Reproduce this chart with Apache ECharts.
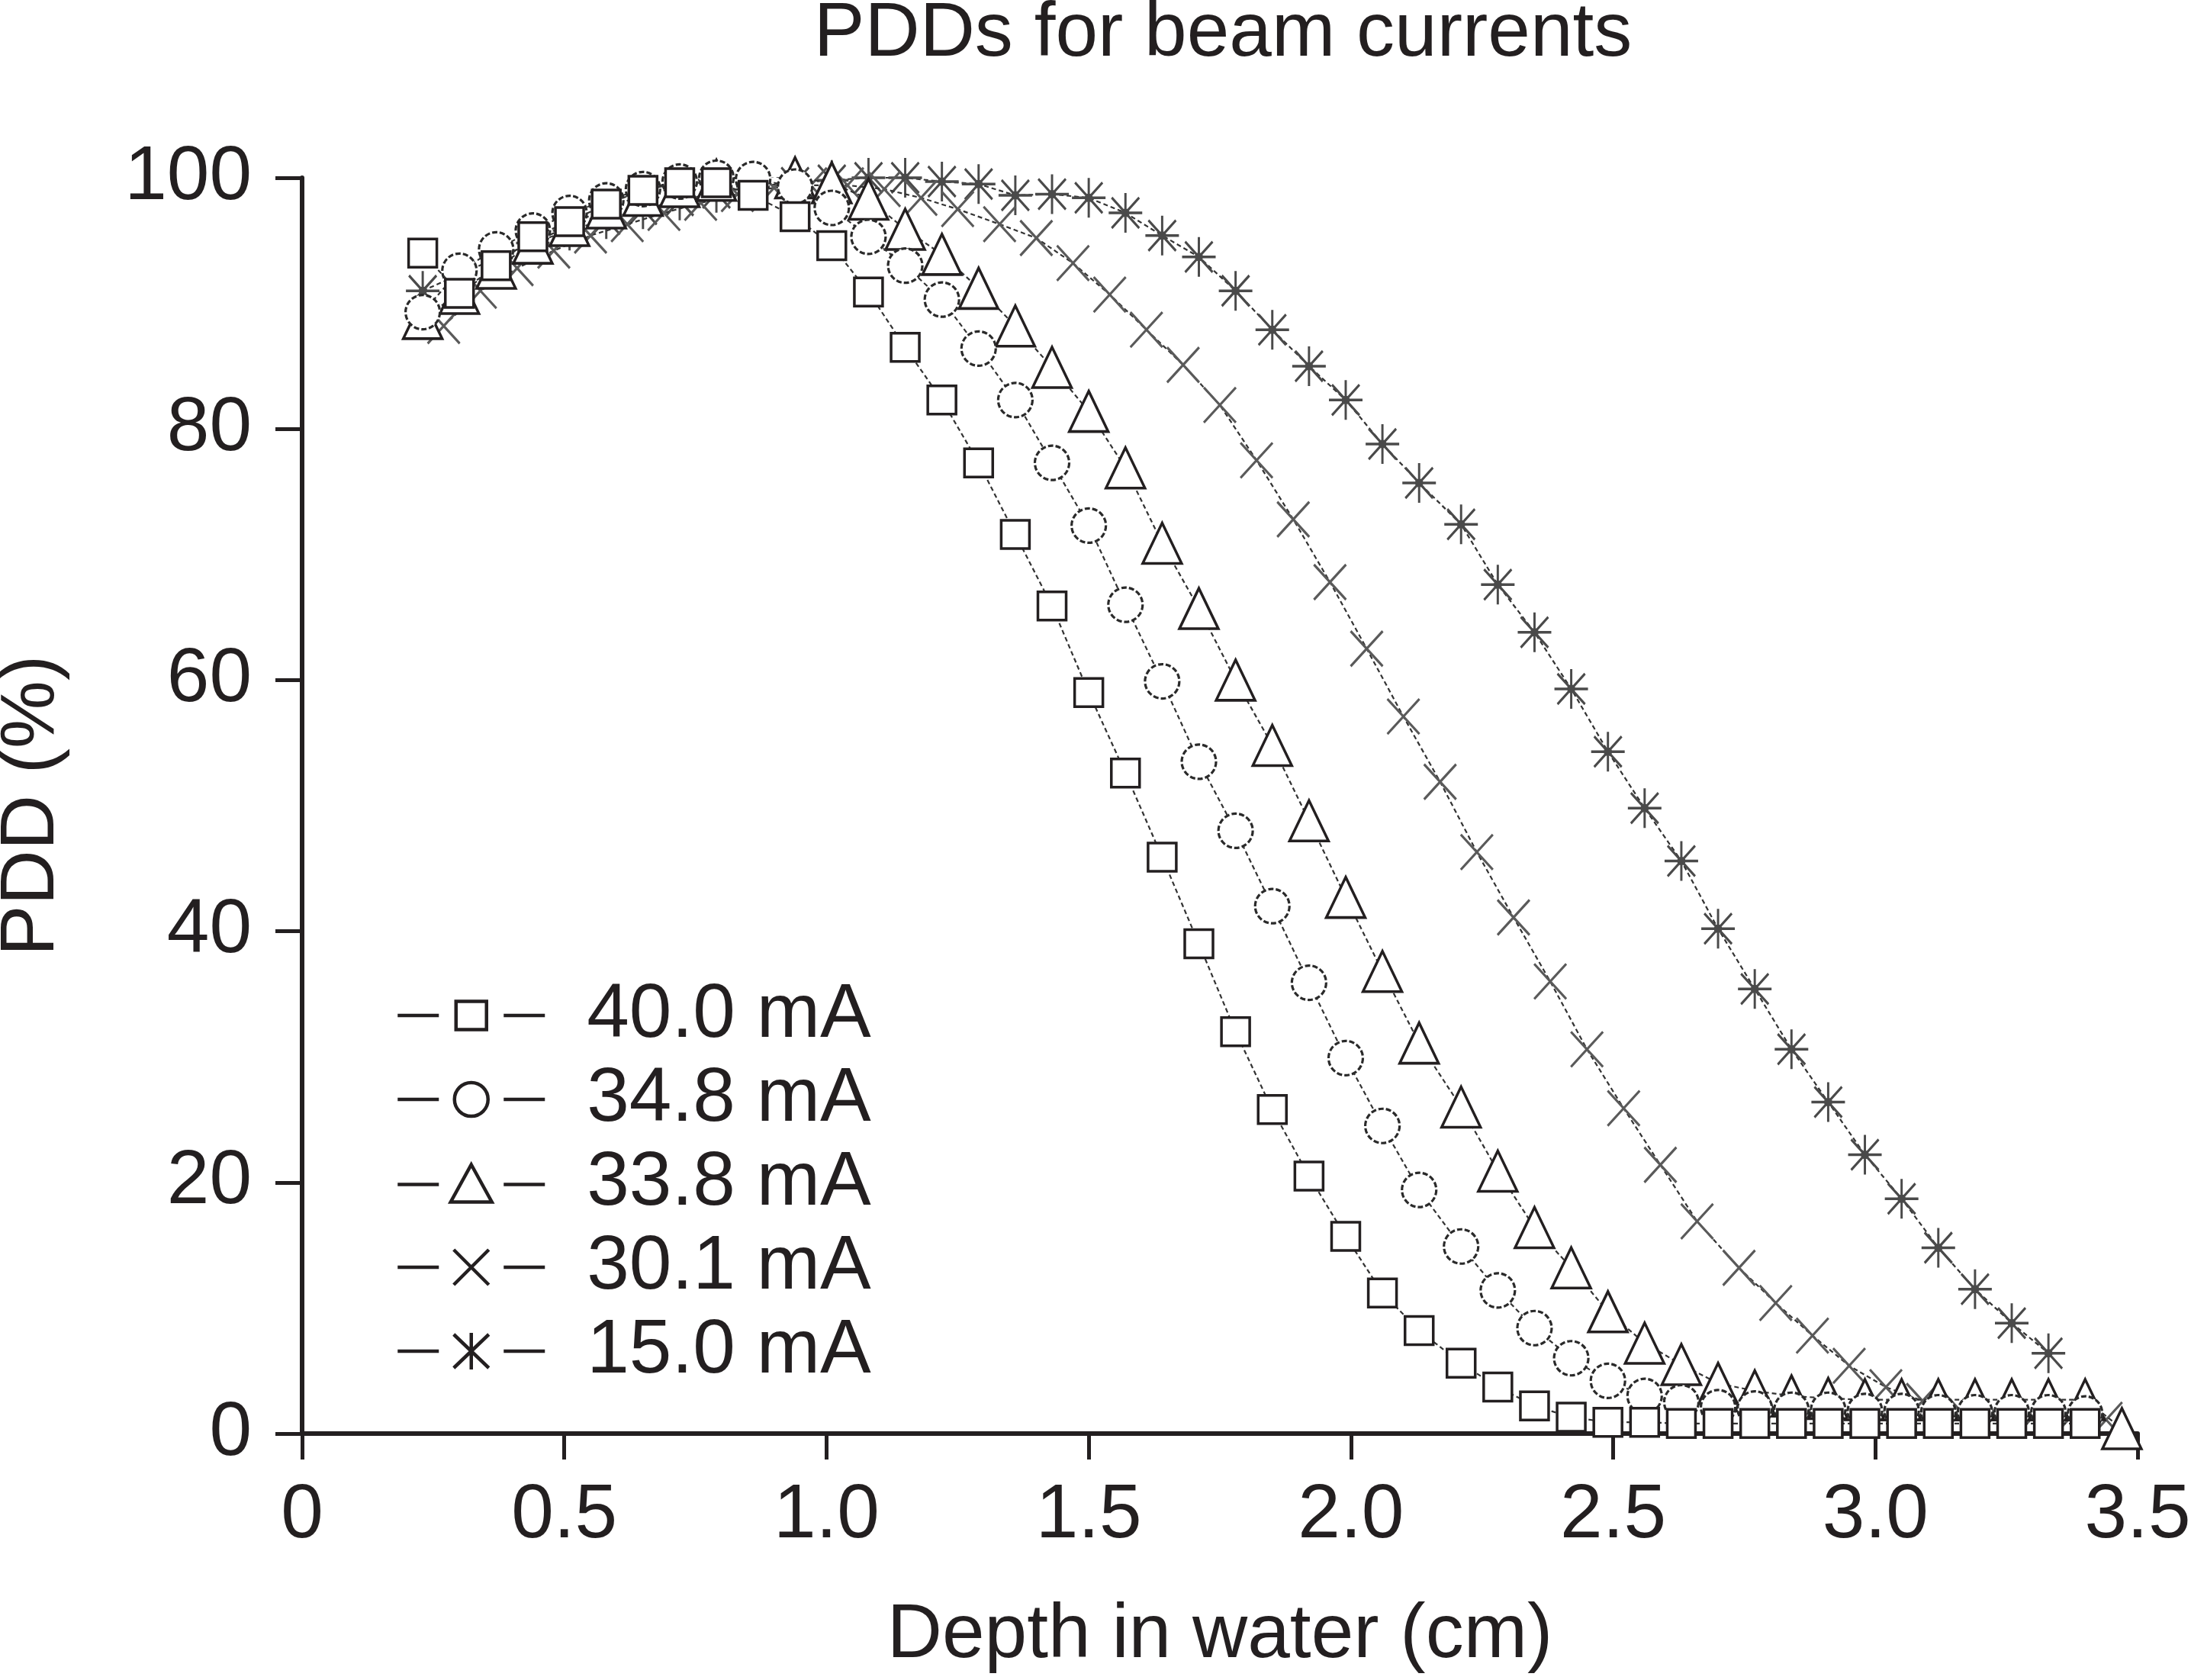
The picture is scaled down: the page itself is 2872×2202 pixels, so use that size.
<!DOCTYPE html>
<html>
<head>
<meta charset="utf-8">
<script src="https://cdn.jsdelivr.net/npm/echarts@6/dist/echarts.min.js"></script>
<style>
html,body{margin:0;padding:0;background:#ffffff;}
#chart{width:2872px;height:2202px;}
</style>
</head>
<body>
<div id="chart"></div>
<script>
// ---------------- data ----------------
const depthMain = [0.23, 0.30, 0.37, 0.44, 0.51, 0.58, 0.65, 0.72, 0.79, 0.86,
  0.94, 1.01, 1.08, 1.15, 1.22, 1.29, 1.36, 1.43, 1.50, 1.57,
  1.64, 1.71, 1.78, 1.85, 1.92, 1.99, 2.06, 2.13, 2.21, 2.28,
  2.35, 2.42, 2.49, 2.56, 2.63, 2.70, 2.77, 2.84, 2.91, 2.98,
  3.05, 3.12, 3.19, 3.26, 3.33, 3.40, 3.47];
const depthX = [0.27, 0.34, 0.41, 0.48, 0.55, 0.62, 0.69, 0.76, 0.83, 0.90,
  0.97, 1.04, 1.11, 1.18, 1.25, 1.33, 1.40, 1.47, 1.54, 1.61,
  1.68, 1.75, 1.82, 1.89, 1.96, 2.03, 2.10, 2.17, 2.24, 2.31,
  2.38, 2.45, 2.52, 2.59, 2.66, 2.74, 2.81, 2.88, 2.95, 3.02,
  3.09, 3.16, 3.23, 3.30, 3.37, 3.44];

const pdd40_0 = [94.0, 90.8, 93.0, 95.3, 96.5, 97.9, 99.0, 99.6, 99.6, 98.6,
  96.9, 94.6, 90.9, 86.5, 82.3, 77.3, 71.6, 65.9, 59.0, 52.6,
  45.9, 39.0, 32.0, 25.8, 20.5, 15.7, 11.2, 8.2, 5.6, 3.7,
  2.2, 1.3, 0.9, 0.9, 0.8, 0.8, 0.8, 0.8, 0.8, 0.8,
  0.8, 0.8, 0.8, 0.8, 0.8, 0.8];
const pdd34_8 = [89.3, 92.6, 94.3, 95.8, 97.2, 98.2, 99.1, 99.7, 100.0, 99.9,
  99.3, 97.6, 95.3, 93.0, 90.3, 86.4, 82.3, 77.3, 72.3, 66.0,
  59.9, 53.5, 48.0, 42.0, 35.9, 29.9, 24.5, 19.4, 14.9, 11.4,
  8.4, 6.0, 4.2, 3.0, 2.5, 2.1, 2.0, 1.9, 1.9, 1.8,
  1.8, 1.7, 1.7, 1.7, 1.7, 1.6];
const pdd33_8 = [88.8, 90.8, 92.8, 94.8, 96.2, 97.6, 98.6, 99.3, 99.8, 100.2,
  100.0, 99.6, 98.3, 95.9, 93.9, 91.2, 88.2, 84.9, 81.4, 76.9,
  70.9, 65.7, 60.0, 54.8, 48.8, 42.7, 36.8, 31.1, 26.0, 20.9,
  16.4, 13.2, 9.7, 7.2, 5.5, 4.0, 3.4, 3.0, 2.8, 2.7,
  2.7, 2.7, 2.7, 2.7, 2.7, 2.7, 0.4];
const pdd30_1 = [88.2, 91.0, 92.8, 94.2, 95.4, 96.3, 97.2, 98.0, 98.7, 99.2,
  99.4, 99.4, 99.1, 98.4, 97.5, 96.3, 95.2, 93.2, 90.7, 87.9,
  85.1, 81.9, 77.5, 72.8, 67.8, 62.5, 57.1, 51.9, 46.3, 41.1,
  36.0, 30.6, 25.9, 21.4, 16.9, 13.2, 10.4, 7.8, 5.4, 3.7,
  2.6, 1.9, 1.5, 1.3, 1.2, 1.1];
const pdd15_0 = [91.0, 92.3, 93.6, 94.8, 95.8, 96.7, 97.5, 98.2, 98.8, 99.3,
  99.6, 99.8, 100.0, 100.0, 99.7, 99.5, 98.6, 98.7, 98.4, 97.2,
  95.4, 93.7, 91.0, 87.9, 85.0, 82.3, 78.8, 75.7, 72.4, 67.6,
  63.8, 59.3, 54.3, 49.8, 45.6, 40.2, 35.4, 30.6, 26.4, 22.2,
  18.7, 14.8, 11.5, 8.8, 6.4];

const seriesNames = ['40.0 mA', '34.8 mA', '33.8 mA', '30.1 mA', '15.0 mA'];
const xTickLabels = ['0', '0.5', '1.0', '1.5', '2.0', '2.5', '3.0', '3.5'];
const yTickLabels = ['0', '20', '40', '60', '80', '100'];

// ---------------- styling ----------------
const INK = '#231f20';
const FONT = "'Liberation Sans', Arial, Helvetica, sans-serif";

function pairs(xs, ys) { return ys.map((y, i) => [xs[i], y]); }

const legendLines = 'M0 27 L54 27 M139 27 L193 27 ';
const legendIcons = [
  'path://' + legendLines + 'M76.5 8.5 L116.5 8.5 L116.5 45.5 L76.5 45.5 Z',
  'path://' + legendLines + 'M74.5 27 A22 22 0 1 1 118.5 27 A22 22 0 1 1 74.5 27 Z',
  'path://' + legendLines + 'M96.5 1 L123.5 50 L69.5 50 Z',
  'path://' + legendLines + 'M73.5 4 L119.5 50 M119.5 4 L73.5 50',
  'path://' + legendLines + 'M96.5 3 L96.5 51 M73.5 5 L119.5 49 M119.5 5 L73.5 49'
];

const xMarker = 'path://M0 0 L42 46 M42 0 L0 46';
const starMarker = 'path://M22 0 L22 52 M0 26 L44 26 M4 6 L40 46 M40 6 L4 46 M26 26 A4 4 0 1 1 18 26 A4 4 0 1 1 26 26 Z';

const connLine = { color: '#333333', width: 2.2, type: [6, 4] };

const option = {
  backgroundColor: '#ffffff',
  animation: false,
  title: {
    text: 'PDDs for beam currents',
    left: 1603,
    top: -5,
    padding: 0,
    textAlign: 'center',
    textStyle: { fontFamily: FONT, fontSize: 100, fontWeight: 'normal', color: INK, lineHeight: 100 }
  },
  grid: { left: 396, right: 70, top: 233, bottom: 323, containLabel: false, outerBoundsMode: 'none' },
  legend: {
    orient: 'vertical',
    left: 519,
    top: 1281,
    padding: 0,
    itemGap: 10,
    itemWidth: 193,
    itemHeight: 54,
    selectedMode: false,
    symbolKeepAspect: true,
    itemStyle: { color: '#ffffff', borderColor: INK, borderWidth: 4.5 },
    textStyle: { fontFamily: FONT, fontSize: 100, color: INK, lineHeight: 100, padding: [0, 0, 0, 50] },
    data: seriesNames.map((n, i) => ({ name: n, icon: legendIcons[i] }))
  },
  xAxis: {
    type: 'value',
    min: 0, max: 3.5, interval: 0.5,
    name: 'Depth in water (cm)',
    nameLocation: 'middle',
    nameGap: 215,
    nameTextStyle: { fontFamily: FONT, fontSize: 100, color: INK, lineHeight: 100 },
    axisLine: { show: true, onZero: false, lineStyle: { color: INK, width: 6 } },
    axisTick: { show: true, inside: false, length: 34, lineStyle: { color: INK, width: 5 } },
    axisLabel: {
      margin: 58, fontFamily: FONT, fontSize: 100, color: INK, lineHeight: 100,
      showMinLabel: true, showMaxLabel: true,
      formatter: (v) => xTickLabels[Math.round(v / 0.5)]
    },
    splitLine: { show: false }
  },
  yAxis: {
    type: 'value',
    min: 0, max: 100, interval: 20,
    name: 'PDD (%)',
    nameLocation: 'middle',
    nameGap: 304,
    nameTextStyle: { fontFamily: FONT, fontSize: 100, color: INK, lineHeight: 100 },
    axisLine: { show: true, onZero: false, lineStyle: { color: INK, width: 6 } },
    axisTick: { show: true, inside: false, length: 35, lineStyle: { color: INK, width: 5 } },
    axisLabel: {
      margin: 66, fontFamily: FONT, fontSize: 100, color: INK, lineHeight: 100,
      formatter: (v) => yTickLabels[Math.round(v / 20)]
    },
    splitLine: { show: false }
  },
  series: [
    {
      name: seriesNames[0], type: 'line', z: 6,
      data: pairs(depthMain, pdd40_0),
      symbol: 'rect', symbolSize: 37,
      itemStyle: { color: '#ffffff', borderColor: INK, borderWidth: 3.5 },
      lineStyle: connLine, emphasis: { disabled: true }
    },
    {
      name: seriesNames[1], type: 'line', z: 5,
      data: pairs(depthMain, pdd34_8),
      symbol: 'circle', symbolSize: 45,
      itemStyle: { color: '#ffffff', borderColor: '#2a2a2a', borderWidth: 3.2, borderType: [7, 3] },
      lineStyle: connLine, emphasis: { disabled: true }
    },
    {
      name: seriesNames[2], type: 'line', z: 4,
      data: pairs(depthMain, pdd33_8),
      symbol: 'triangle', symbolSize: [51, 53],
      itemStyle: { color: '#ffffff', borderColor: INK, borderWidth: 3.5 },
      lineStyle: connLine, emphasis: { disabled: true }
    },
    {
      name: seriesNames[3], type: 'line', z: 3,
      data: pairs(depthX, pdd30_1),
      symbol: xMarker, symbolSize: [42, 46],
      itemStyle: { color: '#5a5a5a', borderColor: '#5a5a5a', borderWidth: 3.2 },
      lineStyle: connLine, emphasis: { disabled: true }
    },
    {
      name: seriesNames[4], type: 'line', z: 2,
      data: pairs(depthMain, pdd15_0),
      symbol: starMarker, symbolSize: [44, 52],
      itemStyle: { color: '#000000', borderColor: '#4a4a4a', borderWidth: 3.2 },
      lineStyle: connLine, emphasis: { disabled: true }
    }
  ]
};

const chart = echarts.init(document.getElementById('chart'), null, { renderer: 'canvas', width: 2872, height: 2202 });
chart.setOption(option);
</script>
</body>
</html>
